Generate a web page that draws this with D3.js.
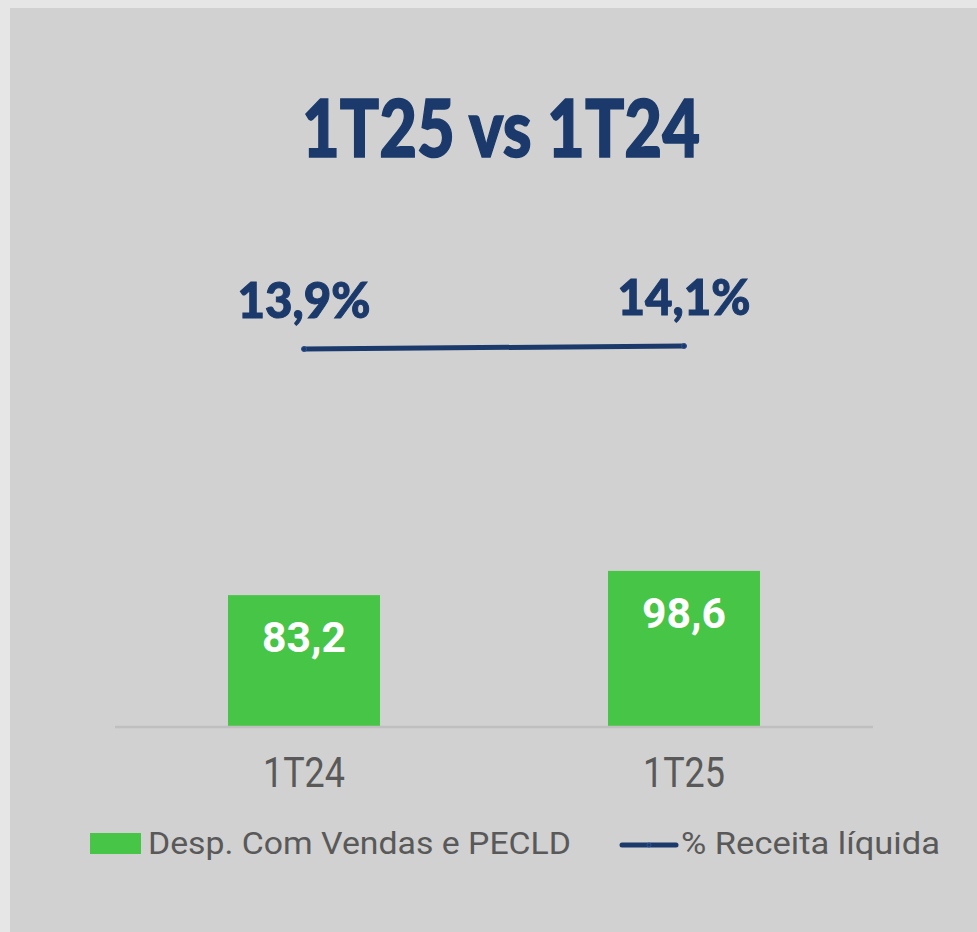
<!DOCTYPE html>
<html><head><meta charset="utf-8">
<script src="https://cdn.jsdelivr.net/npm/d3@7"></script>
<style>
html,body{margin:0;padding:0;background:#e6e6e6;}
svg{display:block;}
</style></head>
<body>
<svg id="chart" width="977" height="932"></svg>
<script>
const categories = ["1T24", "1T25"];
const despValues = [83.2, 98.6];
const despLabels = ["83,2", "98,6"];
const pctValues = [13.9, 14.1];
const pctLabels = ["13,9%", "14,1%"];
const legendLabels = ["Desp. Com Vendas e PECLD", "% Receita líquida"];
const titleText = "1T25 vs 1T24";

const svg = d3.select("#chart");
const W = 977, H = 932;
svg.append("rect").attr("x",0).attr("y",0).attr("width",W).attr("height",H).attr("fill","#e6e6e6");
svg.append("rect").attr("x",10).attr("y",8).attr("width",W-10).attr("height",H-8).attr("fill","#d1d1d1");

const green = "#47c546", navy = "#1b3a6b", grey = "#595959";

const x = d3.scaleBand().domain(categories).range([114, 874]).paddingInner(0.6).paddingOuter(0.3);
const y = d3.scaleLinear().domain([0, 200]).range([726, 411.4]);
const y2 = d3.scaleLinear().domain([10, 20]).range([407.5, 257.5]);

// title
svg.append("text").attr("x", 501).attr("y", 157).attr("text-anchor","middle")
  .attr("font-family","Lato").attr("font-weight",900).attr("font-size",80)
  .attr("fill",navy).attr("stroke",navy).attr("stroke-width",1.5)
  .attr("textLength",398).attr("lengthAdjust","spacingAndGlyphs")
  .text(titleText);

// bars
svg.selectAll("rect.bar").data(categories).join("rect").attr("class","bar")
  .attr("x", d => x(d)).attr("width", x.bandwidth())
  .attr("y", (d,i) => y(despValues[i])).attr("height", (d,i) => y(0) - y(despValues[i]))
  .attr("fill", green);

// axis line
svg.append("line").attr("x1",115).attr("x2",873).attr("y1",727).attr("y2",727)
  .attr("stroke","#bfbfbf").attr("stroke-width",2.5);

// bar labels
svg.selectAll("text.val").data(categories).join("text").attr("class","val")
  .attr("x", d => x(d) + x.bandwidth()/2).attr("y", (d,i) => y(despValues[i]) + 57)
  .attr("text-anchor","middle").attr("font-family","Roboto").attr("font-weight",700)
  .attr("font-size",43).attr("fill","#ffffff").attr("textLength",84).attr("lengthAdjust","spacingAndGlyphs")
  .text((d,i) => despLabels[i]);

// axis labels
const xAxis = d3.axisBottom(x).tickSize(0).tickPadding(0);
const gx = svg.append("g").attr("transform","translate(0,787)").call(xAxis);
gx.select(".domain").remove();
gx.selectAll("text").attr("dy",0).attr("font-family","Roboto").attr("font-size",43)
  .attr("fill",grey).attr("textLength",82).attr("lengthAdjust","spacingAndGlyphs");

// line
const cx = (d) => x(d) + x.bandwidth()/2;
const line = d3.line().x((d,i) => cx(categories[i])).y(d => y2(d));
svg.append("path").datum(pctValues).attr("d", line).attr("fill","none")
  .attr("stroke",navy).attr("stroke-width",5).attr("stroke-linecap","round");
svg.selectAll("circle.pt").data(pctValues).join("circle").attr("class","pt")
  .attr("cx",(d,i) => cx(categories[i])).attr("cy", d => y2(d)).attr("r",2.5)
  .attr("fill",navy).attr("stroke","#2f5291").attr("stroke-width",1);

// pct labels
svg.selectAll("text.pct").data(pctValues).join("text").attr("class","pct")
  .attr("x",(d,i) => cx(categories[i])).attr("y", d => y2(d) - 31)
  .attr("text-anchor","middle").attr("font-family","Lato").attr("font-weight",900)
  .attr("font-size",49).attr("fill",navy).attr("stroke",navy).attr("stroke-width",1)
  .attr("textLength",133).attr("lengthAdjust","spacingAndGlyphs")
  .text((d,i) => pctLabels[i]);

// legend
const lg = svg.append("g");
lg.append("rect").attr("x",90).attr("y",833).attr("width",51).attr("height",21).attr("fill",green);
lg.append("text").attr("x",148).attr("y",854).attr("font-family","Roboto").attr("font-size",31)
  .attr("fill",grey).attr("textLength",423).attr("lengthAdjust","spacingAndGlyphs").text(legendLabels[0]);
lg.append("line").attr("x1",622).attr("x2",676).attr("y1",845).attr("y2",845)
  .attr("stroke",navy).attr("stroke-width",5).attr("stroke-linecap","round");
lg.append("circle").attr("cx",649).attr("cy",845).attr("r",2).attr("fill",navy).attr("stroke","#2f5291");
lg.append("text").attr("x",681).attr("y",854).attr("font-family","Roboto").attr("font-size",31)
  .attr("fill",grey).attr("textLength",259).attr("lengthAdjust","spacingAndGlyphs").text(legendLabels[1]);
</script>
</body></html>
